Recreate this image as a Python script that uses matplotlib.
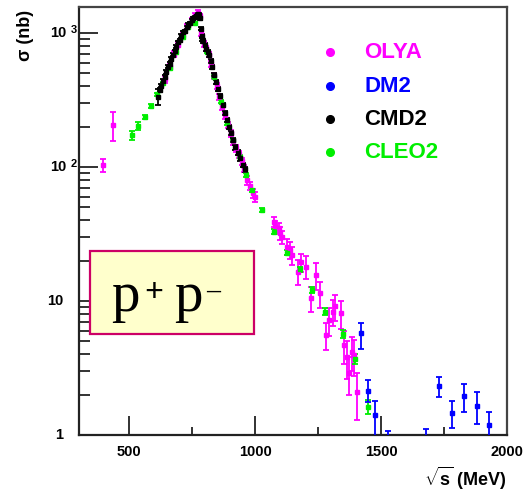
import numpy as np
import matplotlib
matplotlib.use("Agg")
from matplotlib import pyplot as plt
import matplotlib.transforms as mtransforms

plt.rcParams['font.family'] = ['Liberation Sans', 'DejaVu Sans']
plt.rcParams['font.weight'] = 'bold'
plt.rcParams['mathtext.fontset'] = 'custom'
plt.rcParams['mathtext.rm'] = 'Liberation Sans:bold'
plt.rcParams['mathtext.bf'] = 'Liberation Sans:bold'
plt.rcParams['mathtext.default'] = 'rm'

# CMD2 (black)
cmd2_E = [613, 620, 627, 633, 640, 647, 653, 660, 667, 673, 680, 687, 693, 700, 707, 713, 720, 727, 733, 740,
          747, 753, 760, 765, 770, 774, 778, 781, 784, 787, 790, 794, 800, 806, 812, 818, 824, 830, 838, 846,
          854, 862, 870, 878, 886, 894, 902, 910, 920, 930, 940, 950, 960]
cmd2_sig = [335, 375, 405, 440, 470, 510, 560, 590, 640, 690, 730, 790, 850, 880, 950, 1010, 1030, 1100, 1150, 1180,
            1240, 1290, 1310, 1350, 1360, 1380, 1370, 1290, 1080, 950, 900, 870, 820, 760, 720, 680, 620, 560, 490, 430,
            380, 340, 290, 255, 225, 200, 180, 160, 140, 128, 116, 104, 96]
cmd2_err = [45, 12, 12, 14, 14, 15, 16, 16, 18, 20, 20, 22, 24, 24, 26, 28, 28, 30, 30, 32,
            34, 34, 35, 36, 36, 36, 36, 34, 30, 28, 26, 25, 24, 22, 21, 20, 18, 17, 15, 14,
            12, 11, 10, 9, 8, 7, 6, 6, 5, 5, 5, 4, 4]

# OLYA (magenta)
olya_E = [397, 437, 642, 660, 677, 695, 712, 730, 748, 762, 772, 779, 786, 795, 805, 815, 826, 837, 848, 858,
          869, 880, 891, 902, 913, 924, 935, 946, 957, 968, 979, 990, 1000, 1073, 1080, 1093, 1100, 1107, 1127, 1140,
          1147, 1169, 1180, 1200, 1220, 1240, 1257, 1280, 1293, 1307, 1316, 1340, 1353, 1363, 1373, 1383, 1393, 1403]
olya_sig = [103, 206, 450, 560, 700, 820, 960, 1120, 1250, 1360, 1420, 1330, 1000, 830, 770, 690, 590, 480, 400, 335,
            280, 240, 205, 178, 155, 138, 124, 110, 97, 80, 72, 64, 60, 39, 36, 35, 32, 30, 25.4, 24,
            22, 16.6, 19.6, 18, 10.5, 15.6, 11.4, 5.6, 7.2, 8.3, 9.1, 8.1, 4.7, 3.84, 2.89, 4.19, 3.95, 2.1]
olya_err = [11, 50, 25, 30, 35, 40, 45, 50, 55, 60, 60, 55, 45, 40, 35, 32, 28, 24, 20, 17,
            15, 13, 11, 10, 9, 8, 7, 7, 6, 6, 5, 5, 5, 3.5, 3.5, 3.5, 3.5, 3.5, 3.5, 3.5,
            3.5, 3.5, 3.0, 3.5, 2.2, 3.5, 2.5, 1.3, 1.7, 1.8, 2.0, 1.9, 1.3, 1.2, 0.9, 1.2, 1.2, 0.8]

# CLEO2 (green)
cleo2_E = [509, 533, 563, 587, 611, 633, 660, 687, 713, 733, 760, 807, 836, 863, 887, 913, 940, 963, 989, 1027,
           1076, 1127, 1176, 1224, 1277, 1347, 1396, 1449]
cleo2_sig = [173, 202, 236, 285, 348, 421, 545, 725, 937, 1114, 1180, 725, 472, 307, 212, 159, 119, 87, 67, 48,
             33, 22.9, 17.2, 12.1, 8.3, 5.7, 3.69, 1.63]
cleo2_err = [14, 14, 8, 8, 10, 10, 12, 15, 18, 20, 22, 15, 10, 7, 5, 4, 3, 2.5, 2, 1.5,
             1.2, 1.0, 0.8, 0.6, 0.5, 0.4, 0.3, 0.2]

# DM2 (blue)
dm2_E = [1420, 1449, 1477, 1527, 1680, 1731, 1780, 1829, 1881, 1929]
dm2_sig = [5.74, 2.13, 1.41, 0.8, 0.8, 2.33, 1.47, 1.95, 1.65, 1.19]
dm2_lo = [1.34, 0.37, 0.6, 0.3, 0.3, 0.42, 0.35, 0.46, 0.45, 0.4]
dm2_hi = [1.16, 0.44, 0.38, 0.27, 0.3, 0.39, 0.32, 0.44, 0.43, 0.3]

legend_names = ["OLYA", "DM2", "CMD2", "CLEO2"]
legend_colors = ["#ff00ff", "#0000ff", "#000000", "#00ee00"]

decades = [1, 10, 100, 1000]
decade_labels = ["1", "10", "10", "10"]
decade_sups = ["", "", "2", "3"]
xticks_major = [500, 1000, 1500, 2000]
xticks_minor = [750, 1250, 1750]

W, H = 527, 492
fig = plt.figure(figsize=(W / 100, H / 100), dpi=100)
ax = fig.add_axes([79 / W, 1 - 435 / H, (507 - 79) / W, (435 - 7) / H])
ax.set_yscale('log')
ax.set_xlim(300, 2000)
ax.set_ylim(1, 10 ** (428 / 134))

def draw(E, s, err, color):
    ax.errorbar(E, s, yerr=err, fmt='s', color=color, ms=3, capsize=2.2,
                elinewidth=1.3, capthick=1.3, clip_on=True, zorder=3)

draw(olya_E, olya_sig, olya_err, "#ff00ff")
draw(cleo2_E, cleo2_sig, cleo2_err, "#00ee00")
draw(cmd2_E, cmd2_sig, cmd2_err, "#000000")
draw(dm2_E, dm2_sig, [dm2_lo, dm2_hi], "#0000ff")

# frame
for side in ['left', 'bottom']:
    ax.spines[side].set_linewidth(1.6)
    ax.spines[side].set_color('#222222')
for side in ['top', 'right']:
    ax.spines[side].set_linewidth(1.6)
    ax.spines[side].set_color('#444444')

ax.set_xticks(xticks_major)
ax.set_xticks(xticks_minor, minor=True)
ax.set_xticklabels([str(v) for v in xticks_major])
ax.tick_params(axis='x', which='major', direction='in', length=14, width=1.3, pad=7,
               labelsize=10.5, color='#222222')
ax.tick_params(axis='x', which='minor', direction='in', length=6, width=1.3, color='#222222')
ax.set_yticks(decades)
ax.yaxis.set_minor_locator(matplotlib.ticker.LogLocator(base=10, subs=np.arange(2, 10)))
ax.yaxis.set_minor_formatter(matplotlib.ticker.NullFormatter())
ax.tick_params(axis='y', which='major', direction='in', length=14, width=1.3,
               labelleft=False, color='#222222')
ax.tick_params(axis='y', which='minor', direction='in', length=8, width=1.3, color='#222222')
for lbl in ax.get_xticklabels():
    lbl.set_fontweight('bold')

# y decade labels, 10 with a small exponent beside it
ytrans = mtransforms.blended_transform_factory(fig.transFigure, ax.transData)
for d, lab, sup in zip(decades, decade_labels, decade_sups):
    xr = 66 if sup else 63
    ax.text(xr / W, d, lab, transform=ytrans, ha='right', va='center',
            fontsize=10.5, fontweight='bold')
    if sup:
        ax.text(71 / W, d, sup, transform=ytrans + mtransforms.ScaledTranslation(0, 0.03, fig.dpi_scale_trans),
                ha='left', va='center', fontsize=8, fontweight='bold')

# axis titles
fig.text(25 / W, 1 - 10 / H, "σ (nb)", rotation=90, ha='center', va='top',
         fontsize=13, fontweight='bold')
fig.text(507 / W, 1 - 478 / H, r"$\sqrt{s}$ (MeV)", ha='right', va='center',
         fontsize=13, fontweight='bold')

# legend
for i, (name, col) in enumerate(zip(legend_names, legend_colors)):
    yy = [52, 86, 119, 152][i]
    fig.lines.append(matplotlib.lines.Line2D([330 / W], [1 - yy / H], marker='o', ms=5.5,
                                             color=col, linestyle='none', transform=fig.transFigure))
    fig.text(364 / W, 1 - yy / H, name, color=col, ha='left', va='center',
             fontsize=16, fontweight='bold')

# label box
box = matplotlib.patches.Rectangle((90 / W, 1 - 334 / H), (254 - 90) / W, (334 - 251) / H,
                                   transform=fig.transFigure, facecolor='#ffffcc',
                                   edgecolor='#cc0066', linewidth=1.6, zorder=5)
fig.patches.append(box)
serif = ['Liberation Serif', 'DejaVu Serif']
fig.text(111 / W, 1 - 311 / H, "p", ha='left', va='baseline', fontsize=41,
         family=serif, fontweight='normal', zorder=6)
fig.text(154 / W, 1 - 292 / H, "+", ha='center', va='center', fontsize=24,
         family=serif, fontweight='bold', zorder=6)
fig.text(174 / W, 1 - 311 / H, "p", ha='left', va='baseline', fontsize=41,
         family=serif, fontweight='normal', zorder=6)
fig.text(213 / W, 1 - 291 / H, "–", ha='center', va='center', fontsize=20,
         family=serif, fontweight='bold', zorder=6)

fig.savefig("out.png", dpi=100)
